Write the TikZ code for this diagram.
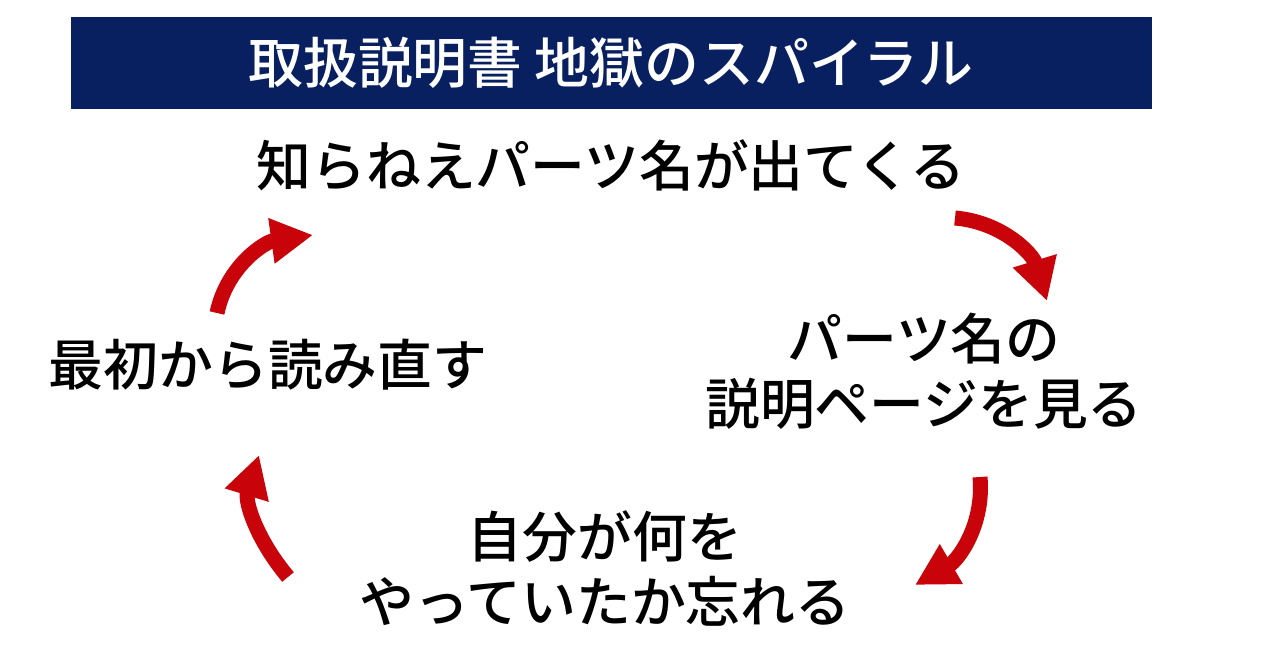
\documentclass[tikz,border=0pt]{standalone}
\usepackage{fontspec}
\setmainfont{Noto Sans CJK JP Medium}
\usetikzlibrary{arrows.meta}
\definecolor{title_navy}{RGB}{8, 32, 96}
\definecolor{spiral_red}{RGB}{200, 4, 10}
\tikzset{
  steptext/.style={font=\fontsize{31.2}{37}\selectfont, align=center, inner sep=0pt},
  spiralarrow/.style={spiral_red, line width=0.3cm, -{Triangle[width=0.86cm,length=0.84cm]}}
}

\begin{document}
\begin{tikzpicture}[x=0.02cm, y=0.02cm]
\useasboundingbox (0,0) rectangle (1280,670);
\fill[title_navy] (71,561) rectangle (1152,653);
\node[steptext, white] (title) at (611,607) {取扱説明書 地獄のスパイラル};
\node[steptext] (parts) at (611,505) {知らねえパーツ名が出てくる};
\node[steptext] (manual) at (924,299) {パーツ名の\\説明ページを見る};
\node[steptext] (forget) at (605,102) {自分が何を\\やっていたか忘れる};
\node[steptext] (reread) at (268,305) {最初から読み直す};
% arrows round the spiral
\coordinate (a1s) at (955,452); \coordinate (a1e) at (1047,369);
\coordinate (a2s) at (980,193); \coordinate (a2e) at (915,85);
\coordinate (a3s) at (288,93);  \coordinate (a3e) at (259,215);
\coordinate (a4s) at (217,357); \coordinate (a4e) at (313,435);
\draw[spiralarrow] (a1s) to[out=-5, in=107] (a1e);
\draw[spiralarrow] (a2s) to[out=-85, in=30] (a2e);
\draw[spiralarrow] (a3s) to[out=130, in=-107] (a3e);
\draw[spiralarrow] (a4s) to[out=78, in=188] (a4e);
\end{tikzpicture}
\end{document}
